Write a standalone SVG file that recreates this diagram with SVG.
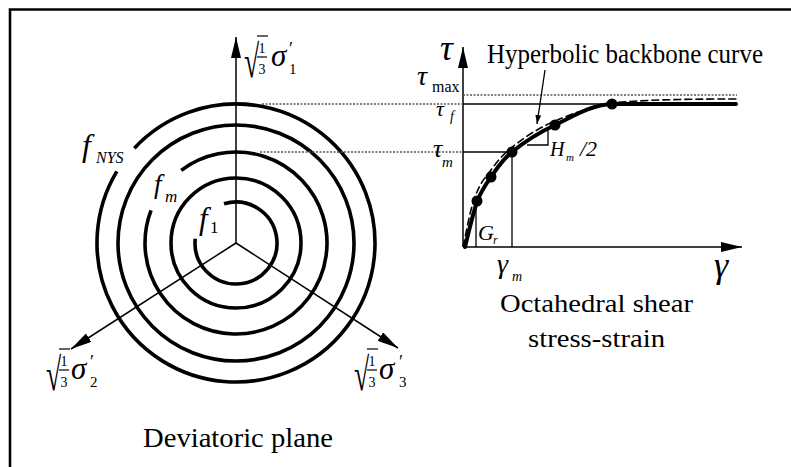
<svg xmlns="http://www.w3.org/2000/svg" width="791" height="467" viewBox="0 0 791 467">
<defs>
<marker id="ah" markerUnits="userSpaceOnUse" markerWidth="21" markerHeight="10" refX="21" refY="5" orient="auto"><path d="M0,0 L21,5 L0,10 Z" fill="#000"/></marker>
<marker id="ahs" markerUnits="userSpaceOnUse" markerWidth="9" markerHeight="6" refX="9" refY="3" orient="auto"><path d="M0,0 L9,3 L0,6 Z" fill="#000"/></marker>
</defs>
<style>
.ring{fill:none;stroke:#000;stroke-width:3.6}
.ax{fill:none;stroke:#000;stroke-width:1.5}
.thin{fill:none;stroke:#000;stroke-width:1.3}
.dotl{fill:none;stroke:#555;stroke-width:1.3;stroke-dasharray:2 1.5}
.t{font-family:"Liberation Serif","DejaVu Serif",serif;fill:#000}
.i{font-style:italic}
.bar{stroke:#000;stroke-width:1.2}
</style>
<rect width="791" height="467" fill="#fff"/>
<g id="frame"><path d="M10,467 V9.5 H791" fill="none" stroke="#000" stroke-width="2.6"/></g>

<g id="ring-fNYS"><path class="ring" d="M116.85,171.41 A139,139 0 1 0 134.34,148.2"/></g>
<g id="ring-2"><circle class="ring" cx="236" cy="243" r="118"/></g>
<g id="ring-fm"><path class="ring" d="M151.04,210.39 A91,91 0 1 0 181.23,170.32"/></g>
<g id="ring-4"><circle class="ring" cx="236" cy="243" r="65"/></g>
<g id="ring-f1"><path class="ring" d="M195.22,238.71 A41,41 0 1 0 224.01,203.79"/></g>

<g id="connectors">
<line class="ax" x1="236" y1="243" x2="236" y2="37" marker-end="url(#ah)"/>
<line class="ax" x1="236" y1="243" x2="71" y2="349" marker-end="url(#ah)"/>
<line class="ax" x1="236" y1="243" x2="398" y2="348" marker-end="url(#ah)"/>
<line class="ax" x1="463" y1="247" x2="463" y2="47" marker-end="url(#ah)"/>
<line class="ax" x1="463" y1="247" x2="742" y2="247" marker-end="url(#ah)"/>
<line class="dotl" x1="262" y1="104" x2="463" y2="104"/>
<line class="dotl" x1="260" y1="152" x2="463" y2="152"/>
<line class="dotl" x1="463" y1="95" x2="737" y2="95"/>
<line class="thin" x1="463" y1="104" x2="612" y2="104"/>
<line class="thin" x1="463" y1="152" x2="512" y2="152"/>
<line class="thin" x1="512" y1="152" x2="512" y2="247"/>
<line class="thin" x1="476" y1="205" x2="476" y2="247"/>
<path class="thin" d="M527,145 H548 V128"/>
<line class="thin" x1="545" y1="70" x2="537" y2="124" marker-end="url(#ahs)"/>
</g>

<g id="curves">
<path d="M463,247 C466,235 469,214 474,200 C478,188 482,181 488,174 C494,166 500,157 510,149 C521,140 536,129 553,122 C571,114 590,107 612,103 C640,100 680,99 737,99" fill="none" stroke="#000" stroke-width="1.6" stroke-dasharray="8 3"/>
<path d="M465,247 C467,239.5 472.7,213.7 477,202 C481.3,190.3 485.2,185.3 491,177 C496.8,168.7 501.3,160.7 512,152 C522.7,143.3 538.3,132.8 555,125 C571.7,117.2 590,105 612,104 L736,104" fill="none" stroke="#000" stroke-width="4" stroke-linecap="round"/>
<circle cx="477" cy="201" r="5.5"/>
<circle cx="491" cy="177" r="5.5"/>
<circle cx="512" cy="152" r="5.5"/>
<circle cx="555" cy="125" r="5.5"/>
<circle cx="612" cy="104" r="5.5"/>
</g>

<g id="label-s1" transform="translate(244,77)">
<text class="t" font-size="46" transform="scale(0.6,1)">√</text>
<line class="bar" x1="13" y1="-41" x2="24" y2="-41"/>
<text class="t" x="18" y="-24" font-size="14" text-anchor="middle">1</text>
<line class="bar" x1="13" y1="-20" x2="23" y2="-20"/>
<text class="t" x="18" y="-3" font-size="14" text-anchor="middle">3</text>
<text class="t i" x="27" y="-11" font-size="31">σ</text>
<text class="t" x="45" y="-22" font-size="18">′</text>
<text class="t" x="45" y="-3" font-size="15">1</text>
</g>
<g id="label-s2" transform="translate(46,390)">
<text class="t" font-size="46" transform="scale(0.6,1)">√</text>
<line class="bar" x1="13" y1="-41" x2="24" y2="-41"/>
<text class="t" x="18" y="-24" font-size="14" text-anchor="middle">1</text>
<line class="bar" x1="13" y1="-20" x2="23" y2="-20"/>
<text class="t" x="18" y="-3" font-size="14" text-anchor="middle">3</text>
<text class="t i" x="25" y="-11" font-size="31">σ</text>
<text class="t" x="44" y="-22" font-size="18">′</text>
<text class="t" x="44" y="-3" font-size="15">2</text>
</g>
<g id="label-s3" transform="translate(354,390)">
<text class="t" font-size="46" transform="scale(0.6,1)">√</text>
<line class="bar" x1="13" y1="-41" x2="24" y2="-41"/>
<text class="t" x="18" y="-24" font-size="14" text-anchor="middle">1</text>
<line class="bar" x1="13" y1="-20" x2="23" y2="-20"/>
<text class="t" x="18" y="-3" font-size="14" text-anchor="middle">3</text>
<text class="t i" x="25" y="-11" font-size="31">σ</text>
<text class="t" x="45" y="-22" font-size="18">′</text>
<text class="t" x="45" y="-3" font-size="15">3</text>
</g>

<g id="labels-f">
<text class="t i" x="82" y="156" font-size="32">f</text><text class="t i" x="96" y="163" font-size="16">NYS</text>
<text class="t i" x="154" y="193" font-size="27">f</text><text class="t i" x="165" y="202" font-size="17">m</text>
<text class="t i" x="199" y="229" font-size="31">f</text><text class="t" x="210" y="233" font-size="17">1</text>
</g>

<g id="labels-chart">
<text class="t i" x="440" y="60" font-size="36">τ</text>
<text class="t i" x="417" y="85" font-size="28">τ</text><text class="t" x="432" y="92" font-size="16">max</text>
<text class="t i" x="436" y="116" font-size="22">τ</text><text class="t i" x="450" y="121" font-size="14">f</text>
<text class="t i" x="433" y="157" font-size="26">τ</text><text class="t i" x="442" y="167" font-size="15">m</text>
<text class="t i" x="550" y="156" font-size="20">H</text><text class="t i" x="566" y="161" font-size="11">m</text><text class="t i" x="580" y="156" font-size="22">/2</text>
<text class="t i" x="478" y="240" font-size="22">G</text><text class="t i" x="493" y="244" font-size="12">r</text>
<text class="t i" x="497" y="273" font-size="28">γ</text><text class="t i" x="512" y="281" font-size="14">m</text>
<text class="t i" x="714" y="277" font-size="36">γ</text>
<text class="t" x="487" y="63" font-size="27" textLength="276" lengthAdjust="spacingAndGlyphs">Hyperbolic backbone curve</text>
<text class="t" x="500" y="312" font-size="25" textLength="193" lengthAdjust="spacingAndGlyphs">Octahedral shear</text>
<text class="t" x="528" y="347" font-size="25" textLength="137" lengthAdjust="spacingAndGlyphs">stress-strain</text>
<text class="t" x="143" y="447" font-size="27" textLength="190" lengthAdjust="spacingAndGlyphs">Deviatoric plane</text>
</g>
</svg>
